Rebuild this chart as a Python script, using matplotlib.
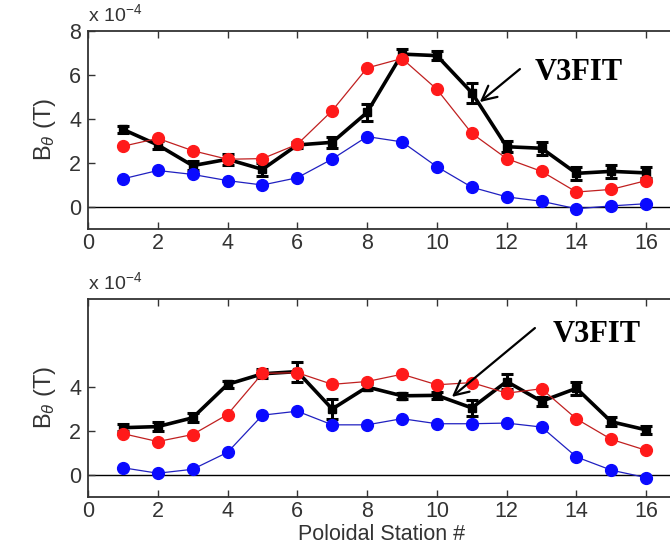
import matplotlib
matplotlib.use("Agg")
import matplotlib.pyplot as plt
import numpy as np

stations = list(range(1, 17))

# Top panel (units of 1e-4 T)
top_v3fit = [3.53, 2.82, 1.88, 2.17, 1.71, 2.82, 2.94, 4.3, 6.95, 6.88, 5.2, 2.74, 2.67, 1.53, 1.62, 1.55]
top_v3fit_err = [0.15, 0.2, 0.2, 0.25, 0.3, 0.15, 0.25, 0.4, 0.25, 0.2, 0.45, 0.25, 0.3, 0.3, 0.3, 0.25]
top_red = [2.76, 3.12, 2.56, 2.17, 2.2, 2.85, 4.38, 6.32, 6.75, 5.35, 3.35, 2.2, 1.62, 0.68, 0.8, 1.2]
top_blue = [1.28, 1.66, 1.48, 1.2, 1.0, 1.33, 2.18, 3.2, 2.96, 1.83, 0.9, 0.46, 0.26, -0.08, 0.05, 0.15]

# Bottom panel (units of 1e-4 T)
bot_v3fit = [2.15, 2.2, 2.6, 4.12, 4.6, 4.7, 3.0, 4.0, 3.6, 3.62, 3.05, 4.25, 3.35, 3.94, 2.42, 2.05]
bot_v3fit_err = [0.15, 0.2, 0.2, 0.15, 0.2, 0.45, 0.45, 0.15, 0.15, 0.15, 0.35, 0.35, 0.2, 0.3, 0.2, 0.2]
bot_red = [1.88, 1.52, 1.84, 2.75, 4.62, 4.65, 4.12, 4.25, 4.58, 4.1, 4.2, 3.72, 3.92, 2.55, 1.62, 1.12]
bot_blue = [0.33, 0.08, 0.26, 1.03, 2.72, 2.9, 2.28, 2.28, 2.56, 2.33, 2.33, 2.36, 2.18, 0.82, 0.22, -0.12]

xticks = [0, 2, 4, 6, 8, 10, 12, 14, 16]
top_yticks = [0, 2, 4, 6, 8]
bot_yticks = [0, 2, 4]

plt.rcParams['font.family'] = ['Liberation Sans', 'DejaVu Sans']
plt.rcParams['mathtext.fontset'] = 'custom'
plt.rcParams['mathtext.rm'] = 'Liberation Sans'
plt.rcParams['mathtext.it'] = 'Liberation Sans:italic'

fig = plt.figure(figsize=(6.7, 5.46), dpi=100)
W, H = 670.0, 546.0
left = 88 / W
width = (716 - 88) / W
ax1 = fig.add_axes([left, 1 - 229 / H, width, 198 / H])
ax2 = fig.add_axes([left, 1 - 497 / H, width, 198 / H])

tick_col = '#333333'

def style(ax, yt):
    ax.set_xlim(0, 18)
    ax.set_ylim(-1, 8)
    ax.set_xticks(xticks)
    ax.set_yticks(yt)
    ax.tick_params(direction='in', top=True, right=True, length=5, width=1,
                   labelsize=15.5, labelcolor=tick_col, color='#333333', pad=5)
    ax.tick_params(axis='x', pad=3)
    for s in ax.spines.values():
        s.set_color('#333333')
        s.set_linewidth(1.3)
    ax.axhline(0, color='black', lw=1.0, zorder=1)
    ax.set_ylabel(r'B$_\theta$ (T)', fontsize=17, color=tick_col, labelpad=8)
    ax.text(0.0, 8.25, r'x 10$^{-4}$', fontsize=14, color=tick_col,
            ha='left', va='bottom', transform=ax.transData)

def draw(ax, v3, err, red, blue):
    ax.errorbar(stations, v3, yerr=err, color='black', lw=2.6, marker='s', ms=6,
                capsize=4, capthick=2.2, elinewidth=2.2, zorder=3)
    ax.plot(stations, blue, color='#2020c0', lw=0.9, marker='o', ms=8.5,
            mfc='#0a0aff', mec='#0a0aff', zorder=4)
    ax.plot(stations, red, color='#c02020', lw=0.9, marker='o', ms=8.5,
            mfc='#ff1a1a', mec='#ff1a1a', zorder=5)

draw(ax1, top_v3fit, top_v3fit_err, top_red, top_blue)
draw(ax2, bot_v3fit, bot_v3fit_err, bot_red, bot_blue)
style(ax1, top_yticks)
style(ax2, bot_yticks)

arrow_kw = dict(arrowstyle='->', color='black', lw=1.6, mutation_scale=26,
                shrinkA=0, shrinkB=0)

ax1.annotate('', xy=(11.23, 4.77), xytext=(12.38, 6.27), arrowprops=arrow_kw, zorder=6)
ax1.text(14.07, 6.1, 'V3FIT', fontsize=22, fontweight='bold', family='Liberation Serif',
         ha='center', va='center')

ax2.annotate('', xy=(10.43, 3.55), xytext=(12.81, 6.68), arrowprops=arrow_kw, zorder=6)
ax2.text(14.58, 6.4, 'V3FIT', fontsize=22, fontweight='bold', family='Liberation Serif',
         ha='center', va='center')

ax2.set_xlabel('Poloidal Station #', fontsize=15.5, color=tick_col, va='bottom')
ax2.xaxis.set_label_coords((382 - 88) / (716 - 88), -48.5 / 198)

fig.savefig('out.png', dpi=100)
